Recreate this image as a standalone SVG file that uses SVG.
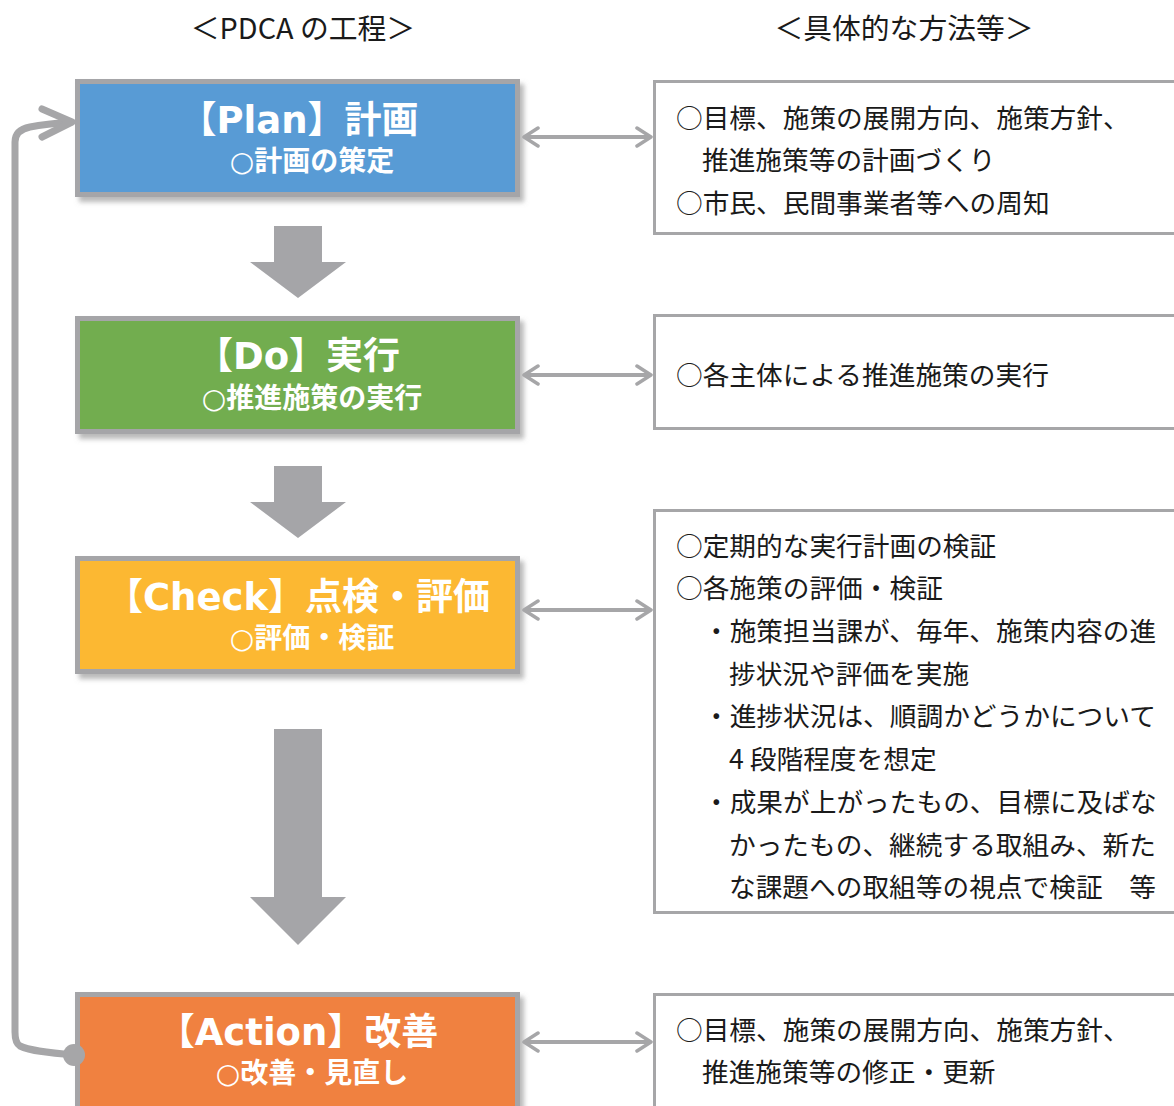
<svg xmlns="http://www.w3.org/2000/svg" width="1174" height="1106" viewBox="0 0 1174 1106">
<style>
.hdr{font-family:"Noto Sans CJK JP","Noto Sans",sans-serif;font-size:28.8px;fill:#1a1a1a}
.ttl{font-family:"DejaVu Sans","Noto Sans CJK JP",sans-serif;font-size:37px;font-weight:bold;fill:#fff}
.sub{font-family:"DejaVu Sans","Noto Sans CJK JP",sans-serif;font-size:28px;font-weight:bold;fill:#fff}
.det{font-family:"Noto Sans CJK JP","Noto Sans",sans-serif;font-size:26.7px;fill:#1a1a1a}
.box{stroke:#A5A5A8;stroke-width:5}
.dbox{fill:#fff;stroke:#A6A6A8;stroke-width:3}
.conn{stroke:#A6A6A8;stroke-width:4;fill:none}
.blk{fill:#A5A5A8}
</style>
<defs>
<filter id="sh" x="-10%" y="-10%" width="130%" height="140%">
<feDropShadow dx="4" dy="5" stdDeviation="2.5" flood-color="#808080" flood-opacity="0.55"/>
</filter>
<marker id="ah" viewBox="0 0 20 24" refX="18" refY="12" markerWidth="20" markerHeight="24" markerUnits="userSpaceOnUse" orient="auto-start-reverse">
<path d="M4,3 L18,12 L4,21" fill="none" stroke="#A6A6A8" stroke-width="3.5" stroke-linecap="round" stroke-linejoin="round"/>
</marker>
</defs>
<rect width="1174" height="1106" fill="#fff"/>

<text class="hdr" x="303" y="26" text-anchor="middle" dominant-baseline="central">＜PDCA の工程＞</text>
<text class="hdr" x="904" y="26" text-anchor="middle" dominant-baseline="central">＜具体的な方法等＞</text>

<g id="plan">
<rect class="box" x="77.5" y="81.5" width="440" height="113" fill="#589BD5" filter="url(#sh)"/>
<text class="ttl" x="299" y="120" text-anchor="middle" dominant-baseline="central">【Plan】計画</text>
<text class="sub" x="312" y="161" text-anchor="middle" dominant-baseline="central">○計画の策定</text>
</g>
<g id="do">
<rect class="box" x="77.5" y="318.5" width="440" height="113" fill="#72AD50" filter="url(#sh)"/>
<text class="ttl" x="298" y="356" text-anchor="middle" dominant-baseline="central">【Do】実行</text>
<text class="sub" x="312" y="398" text-anchor="middle" dominant-baseline="central">○推進施策の実行</text>
</g>
<g id="check">
<rect class="box" x="77.5" y="558.5" width="440" height="113" fill="#FCB833" filter="url(#sh)"/>
<text class="ttl" x="298" y="597" text-anchor="middle" dominant-baseline="central">【Check】点検・評価</text>
<text class="sub" x="312" y="638" text-anchor="middle" dominant-baseline="central">○評価・検証</text>
</g>
<g id="action">
<rect class="box" x="77.5" y="994.5" width="440" height="140" fill="#F08141" filter="url(#sh)"/>
<text class="ttl" x="298" y="1032" text-anchor="middle" dominant-baseline="central">【Action】改善</text>
<text class="sub" x="312" y="1073" text-anchor="middle" dominant-baseline="central">○改善・見直し</text>
</g>

<g id="plan-detail">
<rect class="dbox" x="654.5" y="81.5" width="560" height="152"/>
<text class="det" x="676" y="116" dominant-baseline="central">○目標、施策の展開方向、施策方針、</text>
<text class="det" x="702" y="158" dominant-baseline="central">推進施策等の計画づくり</text>
<text class="det" x="676" y="201" dominant-baseline="central">○市民、民間事業者等への周知</text>
</g>
<g id="do-detail">
<rect class="dbox" x="654.5" y="315.5" width="560" height="113"/>
<text class="det" x="676" y="373" dominant-baseline="central">○各主体による推進施策の実行</text>
</g>
<g id="check-detail">
<rect class="dbox" x="654.5" y="510.5" width="560" height="402"/>
<text class="det" x="676" y="544" dominant-baseline="central">○定期的な実行計画の検証</text>
<text class="det" x="676" y="586" dominant-baseline="central">○各施策の評価・検証</text>
<text class="det" x="703" y="629" dominant-baseline="central">・施策担当課が、毎年、施策内容の進</text>
<text class="det" x="729" y="672" dominant-baseline="central">捗状況や評価を実施</text>
<text class="det" x="703" y="714" dominant-baseline="central">・進捗状況は、順調かどうかについて</text>
<text class="det" x="729" y="757" dominant-baseline="central">4 段階程度を想定</text>
<text class="det" x="703" y="800" dominant-baseline="central">・成果が上がったもの、目標に及ばな</text>
<text class="det" x="729" y="843" dominant-baseline="central">かったもの、継続する取組み、新た</text>
<text class="det" x="729" y="885" dominant-baseline="central">な課題への取組等の視点で検証　等</text>
</g>
<g id="action-detail">
<rect class="dbox" x="654.5" y="994.5" width="560" height="200"/>
<text class="det" x="676" y="1028" dominant-baseline="central">○目標、施策の展開方向、施策方針、</text>
<text class="det" x="702" y="1070" dominant-baseline="central">推進施策等の修正・更新</text>
</g>

<g id="connectors">
<polygon class="blk" points="274,226 322,226 322,262 346,262 298,298 250,262 274,262"/>
<polygon class="blk" points="274,466 322,466 322,502 346,502 298,538 250,502 274,502"/>
<polygon class="blk" points="274,729 322,729 322,897 346,897 298,945 250,897 274,897"/>

<line class="conn" x1="524" y1="137" x2="651" y2="137" marker-start="url(#ah)" marker-end="url(#ah)"/>
<line class="conn" x1="524" y1="375" x2="651" y2="375" marker-start="url(#ah)" marker-end="url(#ah)"/>
<line class="conn" x1="524" y1="610" x2="651" y2="610" marker-start="url(#ah)" marker-end="url(#ah)"/>
<line class="conn" x1="524" y1="1042" x2="651" y2="1042" marker-start="url(#ah)" marker-end="url(#ah)"/>

<path d="M74,1055 C50,1053 30,1051 20,1046 Q15,1043 15,1032 L15,142 Q15,130 30,127 C45,124 58,123 72,122" fill="none" stroke="#A6A6A8" stroke-width="7"/>
<path d="M42,109 L72,122 L42,137" fill="none" stroke="#A6A6A8" stroke-width="7" stroke-linecap="round" stroke-linejoin="round"/>
<circle cx="74" cy="1055" r="11" fill="#A6A6A8"/>
</g>
</svg>
